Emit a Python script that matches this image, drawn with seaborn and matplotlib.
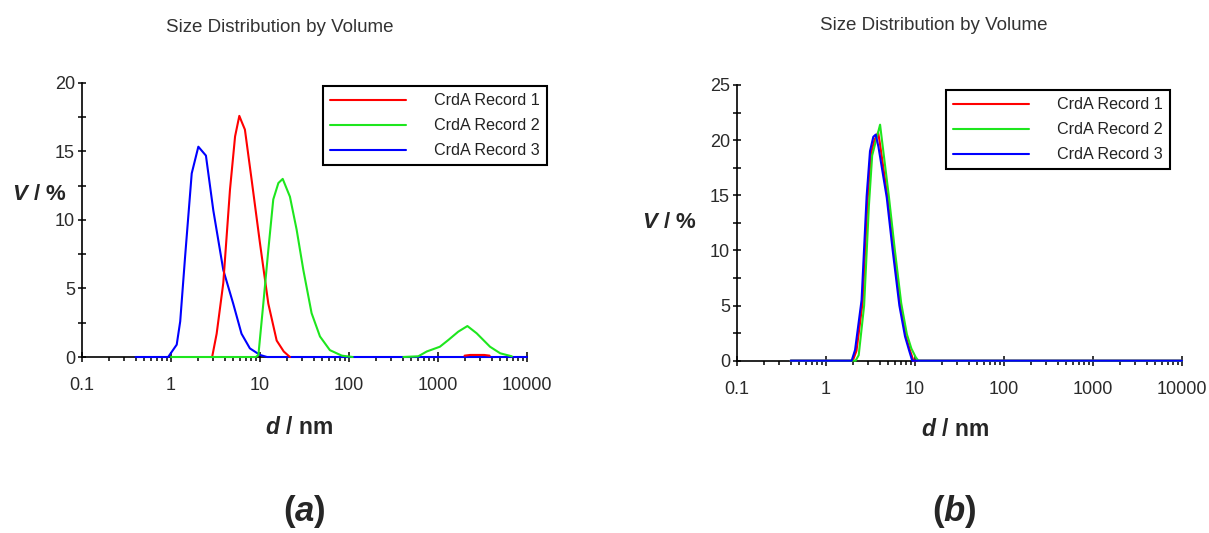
import seaborn as sns
import matplotlib.pyplot as plt
from matplotlib.ticker import FixedLocator, FixedFormatter, LogLocator, NullFormatter, MultipleLocator

# ---- data (d in nm, V in %) ----
# panel (a)
a_rec1_x = [2.9, 3.26, 3.87, 4.6, 5.25, 5.86, 6.2, 6.77, 8.07, 10.0, 12.4, 15.4, 18.5, 21.7]
a_rec1_y = [0, 1.7, 5.4, 12.2, 16.1, 17.6, 17.2, 16.6, 12.9, 8.3, 3.9, 1.2, 0.4, 0]
a_rec1_tail_x = [1990, 2300, 3300, 3800]
a_rec1_tail_y = [0.1, 0.15, 0.15, 0.1]

a_rec2_x = [1.0, 9.0, 9.6, 10.9, 12.4, 14.1, 16.1, 18.0, 21.7, 25.8, 30.7, 38.0, 47.2, 61.0, 83.0, 110.0]
a_rec2_y = [0, 0, 0.15, 3.9, 7.8, 11.5, 12.7, 13.0, 11.7, 9.3, 6.35, 3.2, 1.5, 0.5, 0.1, 0]
a_rec2_tail_x = [408, 600, 746, 1050, 1306, 1690, 2140, 2720, 3840, 5000, 6760]
a_rec2_tail_y = [0, 0.05, 0.4, 0.75, 1.24, 1.85, 2.26, 1.73, 0.75, 0.27, 0.05]

a_rec3_x = [0.4, 0.93, 1.16, 1.27, 1.44, 1.71, 2.03, 2.47, 2.99, 3.87, 5.0, 6.2, 7.7, 10.0, 12.0, 10000]
a_rec3_y = [0, 0, 0.9, 2.6, 7.3, 13.4, 15.35, 14.7, 10.7, 6.35, 3.9, 1.7, 0.63, 0.15, 0, 0]

# panel (b)
b_rec1_x = [0.4, 2.0, 2.2, 2.58, 2.93, 3.2, 3.5, 3.85, 4.05, 4.95, 5.75, 6.85, 7.9, 8.8, 9.6, 10000]
b_rec1_y = [0, 0, 0.9, 5.3, 14.6, 18.8, 20.0, 20.7, 19.6, 14.6, 10.0, 5.0, 2.2, 0.9, 0, 0]
b_rec2_x = [0.4, 2.15, 2.33, 2.68, 3.03, 3.3, 3.6, 4.05, 4.25, 5.1, 5.9, 7.0, 8.1, 9.1, 10.2, 10.9, 10000]
b_rec2_y = [0, 0, 0.5, 5.0, 14.0, 18.6, 19.8, 21.4, 20.0, 14.8, 10.2, 5.2, 2.4, 1.1, 0.3, 0, 0]
b_rec3_x = [0.4, 1.94, 2.12, 2.51, 2.86, 3.12, 3.40, 3.62, 3.88, 4.81, 5.61, 6.67, 7.72, 8.6, 9.3, 10000]
b_rec3_y = [0, 0, 0.97, 5.5, 14.9, 19.0, 20.3, 20.5, 19.4, 14.8, 10.0, 5.0, 2.2, 0.9, 0, 0]

labels = ["CrdA Record 1", "CrdA Record 2", "CrdA Record 3"]
colors = ["#ff0000", "#1ee61e", "#0000ff"]
x_ticks = [0.1, 1, 10, 100, 1000, 10000]
x_tick_labels = ["0.1", "1", "10", "100", "1000", "10000"]

sns.set_style("ticks")
plt.rcParams['font.family'] = ['Liberation Sans', 'DejaVu Sans']
plt.rcParams['mathtext.fontset'] = 'custom'
plt.rcParams['mathtext.bfit'] = 'Liberation Sans:italic:bold'
plt.rcParams['mathtext.it'] = 'Liberation Sans:italic:bold'

fig = plt.figure(figsize=(12.09, 5.33), dpi=100)
ax_a = fig.add_axes([0.0678, 0.3302, 0.3681, 0.5141])
ax_b = fig.add_axes([0.6096, 0.3233, 0.3681, 0.5173])


def draw(ax, x, y, color, label=None, z=3):
    sns.lineplot(x=x, y=y, color=color, linewidth=1.5, ax=ax, label=label,
                 estimator=None, sort=False, zorder=z, clip_on=False)


def style_axis(ax, ymax):
    ax.set_xscale('log')
    ax.set_xlim(0.1, 10000)
    ax.set_ylim(0, ymax)
    for s in ['top', 'right']:
        ax.spines[s].set_visible(False)
    for s in ['left', 'bottom']:
        ax.spines[s].set_color('black')
        ax.spines[s].set_linewidth(1.2)
    ax.xaxis.set_major_locator(FixedLocator(x_ticks))
    ax.xaxis.set_major_formatter(FixedFormatter(x_tick_labels))
    ax.xaxis.set_minor_locator(LogLocator(base=10, subs=range(2, 10)))
    ax.xaxis.set_minor_formatter(NullFormatter())
    ax.yaxis.set_major_locator(MultipleLocator(5))
    ax.yaxis.set_minor_locator(MultipleLocator(2.5))
    ax.tick_params(axis='x', which='major', direction='inout', length=7, width=1.1,
                   pad=11, labelsize=13, labelcolor='#2a2a2a', color='black')
    ax.tick_params(axis='x', which='minor', direction='out', length=3, width=1.1, color='black')
    ax.tick_params(axis='y', which='both', direction='inout', length=6, width=1.1,
                   pad=2, labelsize=13, labelcolor='#2a2a2a', color='black')
    ax.set_xlabel('')
    ax.set_ylabel('')


def add_legend(ax, x0, y0):
    handles, labs = ax.get_legend_handles_labels()
    order = sorted(range(len(labs)), key=lambda i: labs[i])
    leg = ax.legend([handles[i] for i in order], [labs[i] for i in order],
                    loc='upper left', bbox_to_anchor=(x0 / 1209, 1 - y0 / 533),
                    bbox_transform=fig.transFigure, borderaxespad=0,
                    fontsize=11.6, frameon=True, fancybox=False, framealpha=1,
                    edgecolor='black', borderpad=0.45, handlelength=4.7,
                    handletextpad=1.75, labelspacing=0.62)
    leg.get_frame().set_linewidth(1.5)
    for t in leg.get_texts():
        t.set_color('#222222')


# panel (a): blue first, green on top
draw(ax_a, a_rec3_x, a_rec3_y, colors[2], labels[2], z=3)
draw(ax_a, a_rec1_x, a_rec1_y, colors[0], labels[0], z=4)
draw(ax_a, a_rec1_tail_x, a_rec1_tail_y, colors[0], z=4)
draw(ax_a, a_rec2_x, a_rec2_y, colors[1], labels[1], z=5)
draw(ax_a, a_rec2_tail_x, a_rec2_tail_y, colors[1], z=5)
style_axis(ax_a, 20)
add_legend(ax_a, 323, 86)

# panel (b): blue on top
draw(ax_b, b_rec1_x, b_rec1_y, colors[0], labels[0], z=3)
draw(ax_b, b_rec2_x, b_rec2_y, colors[1], labels[1], z=4)
draw(ax_b, b_rec3_x, b_rec3_y, colors[2], labels[2], z=5)
style_axis(ax_b, 25)
add_legend(ax_b, 946, 90)

# titles and labels
title = "Size Distribution by Volume"
fig.text(280 / 1209, 1 - 27 / 533, title, ha='center', va='center', fontsize=13.5, color='#333333')
fig.text(934 / 1209, 1 - 26 / 533, title, ha='center', va='center', fontsize=13.5, color='#333333')

fig.text(39 / 1209, 1 - 194 / 533, r'$\mathbfit{V}$ / %', ha='center', va='center',
         fontsize=16, fontweight='bold')
fig.text(669 / 1209, 1 - 223 / 533, r'$\mathbfit{V}$ / %', ha='center', va='center',
         fontsize=16, fontweight='bold')
fig.text(299 / 1209, 1 - 427 / 533, r'$\mathbfit{d}$ / nm', ha='center', va='center',
         fontsize=16.5, fontweight='bold')
fig.text(955 / 1209, 1 - 429 / 533, r'$\mathbfit{d}$ / nm', ha='center', va='center',
         fontsize=16.5, fontweight='bold')
fig.text(304 / 1209, 1 - 511 / 533, r'($\mathbfit{a}$)', ha='center', va='center',
         fontsize=25, fontweight='bold')
fig.text(954 / 1209, 1 - 512 / 533, r'($\mathbfit{b}$)', ha='center', va='center',
         fontsize=25, fontweight='bold')

fig.savefig('out.png', dpi=100)
